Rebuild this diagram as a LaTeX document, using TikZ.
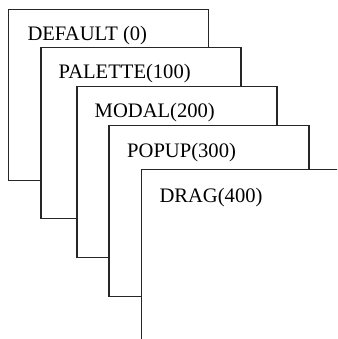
\documentclass[tikz,border=0pt]{standalone}
\usepackage{fontspec}
\setmainfont{Liberation Serif}

\tikzset{
  layer/.style={rectangle, draw=black!85, line width=1.4pt, fill=white,
    anchor=north west, minimum width=200pt, minimum height=171pt,
    inner sep=0pt, outer sep=0pt},
  layername/.style={anchor=base west, inner sep=0pt,
    font=\fontsize{20.6}{24}\selectfont}
}

\begin{document}
\begin{tikzpicture}[x=1pt,y=-1pt]
  \useasboundingbox (0,0) rectangle (337,339);
  \clip (0,0) rectangle (337,339);
  % window layers, back to front
  \node[layer] (default) at (8.3,9.7) {};
  \node[layer] (palette) at (41,47.3) {};
  \node[layer] (modal)   at (77,86.3) {};
  \node[layer] (popup)   at (109,125.7) {};
  \node[layer] (drag)    at (141.3,169.5) {};
  % names, drawn after so each sits on its own layer
  \node[layername] (defaultname) at ([shift={(19,31.2)}]default.north west) {DEFAULT (0)};
  \node[layername] (palettename) at ([shift={(17.5,31.5)}]palette.north west) {PALETTE(100)};
  \node[layername] (modalname)   at ([shift={(17.5,31.5)}]modal.north west) {MODAL(200)};
  \node[layername] (popupname)   at ([shift={(18,31.5)}]popup.north west) {POPUP(300)};
  \node[layername] (dragname)    at ([shift={(18,32.5)}]drag.north west) {DRAG(400)};
\end{tikzpicture}
\end{document}
